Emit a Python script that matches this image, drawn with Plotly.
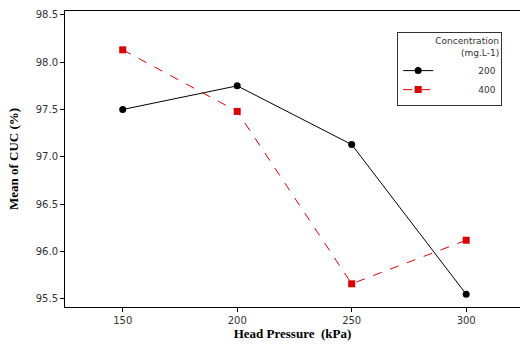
import plotly.graph_objects as go

pressure = [150, 200, 250, 300]
cuc_200 = [97.50, 97.75, 97.13, 95.55]
cuc_400 = [98.13, 97.48, 95.66, 96.12]
series_names = ["200", "400"]
y_ticks = [95.5, 96.0, 96.5, 97.0, 97.5, 98.0, 98.5]

pad = "\u00a0" * 14  # pushes legend labels to the right, as in the reference
title_pad = "\u00a0" * 9

fig = go.Figure()
fig.add_trace(go.Scatter(
    x=pressure, y=cuc_200, name=pad + series_names[0], mode="lines+markers",
    line=dict(color="black", width=1),
    marker=dict(symbol="circle", size=7, color="black"),
))
fig.add_trace(go.Scatter(
    x=pressure, y=cuc_400, name=pad + series_names[1], mode="lines+markers",
    line=dict(color="#e00000", width=1, dash="dash"),
    marker=dict(symbol="square", size=7, color="#e00000"),
))

tick_font = dict(family="DejaVu Sans", size=10, color="#333333")
fig.update_layout(
    width=521, height=344,
    margin=dict(l=65, r=1, t=11, b=37, autoexpand=False),
    paper_bgcolor="white", plot_bgcolor="white",
    showlegend=True,
    legend=dict(
        x=0.73, y=0.93, xanchor="left", yanchor="top",
        bordercolor="#333333", borderwidth=1,
        bgcolor="white",
        title=dict(text="Concentration<br>" + title_pad + "(mg.L-1)", side="top right",
                   font=dict(family="DejaVu Sans", size=9, color="#333333")),
        font=dict(family="DejaVu Sans", size=9, color="#333333"),
        itemwidth=30,
        tracegroupgap=0,
    ),
    xaxis=dict(
        automargin=False,
        range=[124.8, 323.5],
        tickvals=pressure, ticktext=[str(p) for p in pressure],
        showgrid=False, zeroline=False,
        showline=True, linecolor="black", linewidth=1, mirror=True,
        ticks="outside", ticklen=4, tickcolor="black",
        tickfont=tick_font,
        title=dict(text="<b>Head Pressure  (kPa)</b>", font=dict(family="Liberation Serif", size=13, color="black"), standoff=2),
    ),
    yaxis=dict(
        automargin=False,
        range=[95.415, 98.54],
        tickvals=y_ticks, ticktext=[f"{v:.1f}" for v in y_ticks],
        showgrid=False, zeroline=False,
        showline=True, linecolor="black", linewidth=1, mirror=False,
        ticks="outside", ticklen=4, tickcolor="black",
        tickfont=tick_font,
        title=dict(text="<b>Mean of CUC (%)</b>", font=dict(family="Liberation Serif", size=13, color="black"), standoff=14),
    ),
)

fig.write_html("out.html", config={"displayModeBar": False},
               post_script="document.body.style.margin='0px';document.body.style.overflow='hidden';")
